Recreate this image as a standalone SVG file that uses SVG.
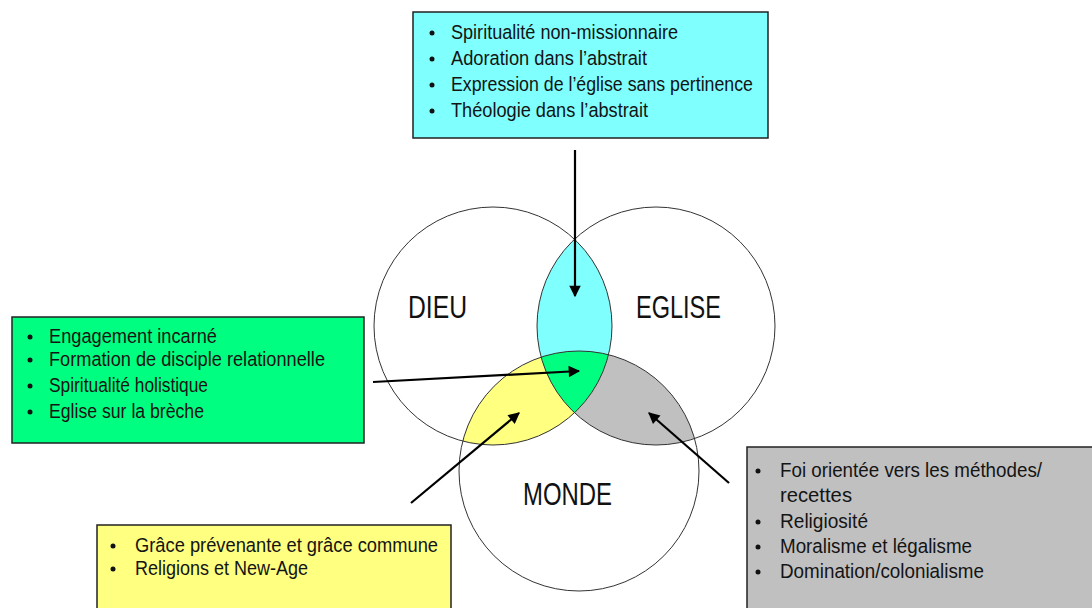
<svg xmlns="http://www.w3.org/2000/svg" width="1092" height="608" viewBox="0 0 1092 608">
<style>
.box{stroke:#222;stroke-width:1.5}
.t{font-family:"Liberation Sans",Arial,sans-serif;font-size:20.5px;fill:#141414}
.big{font-family:"Liberation Sans",Arial,sans-serif;font-size:31px;fill:#111}
.ring{fill:none;stroke:#333;stroke-width:1}
.conn{stroke:#000;stroke-width:2.2;fill:none}
.dot{fill:#111}
</style>
<defs>
<clipPath id="cE"><circle cx="656" cy="326" r="119"/></clipPath>
<clipPath id="cM"><circle cx="579" cy="471" r="120"/></clipPath>
<marker id="ah" viewBox="0 0 10 10" refX="9" refY="5" markerWidth="7" markerHeight="5.2" markerUnits="strokeWidth" orient="auto">
<path d="M0,0 L10,5 L0,10 z" fill="#000"/>
</marker>
</defs>
<rect width="1092" height="608" fill="#fff"/>

<g id="venn">
<circle cx="493" cy="326" r="119" fill="#80ffff" clip-path="url(#cE)"/>
<circle cx="493" cy="326" r="119" fill="#ffff80" clip-path="url(#cM)"/>
<circle cx="656" cy="326" r="119" fill="#c0c0c0" clip-path="url(#cM)"/>
<g clip-path="url(#cM)"><circle cx="493" cy="326" r="119" fill="#00ff80" clip-path="url(#cE)"/></g>
<g id="dieu"><circle class="ring" cx="493" cy="326" r="119"/><text class="big" x="408" y="318" textLength="59" lengthAdjust="spacingAndGlyphs">DIEU</text></g>
<g id="eglise"><circle class="ring" cx="656" cy="326" r="119"/><text class="big" x="636" y="318" textLength="85" lengthAdjust="spacingAndGlyphs">EGLISE</text></g>
<g id="monde"><circle class="ring" cx="579" cy="471" r="120"/><text class="big" x="523" y="505" textLength="89" lengthAdjust="spacingAndGlyphs">MONDE</text></g>
</g>

<g id="box-cyan">
<rect class="box" x="413" y="12" width="355" height="126" fill="#80ffff"/>
<circle class="dot" cx="432" cy="33" r="2.5"/><text class="t" x="451" y="39" textLength="227" lengthAdjust="spacingAndGlyphs">Spiritualité non-missionnaire</text>
<circle class="dot" cx="432" cy="59" r="2.5"/><text class="t" x="451" y="65" textLength="196" lengthAdjust="spacingAndGlyphs">Adoration dans l’abstrait</text>
<circle class="dot" cx="432" cy="85" r="2.5"/><text class="t" x="451" y="91" textLength="302" lengthAdjust="spacingAndGlyphs">Expression de l’église sans pertinence</text>
<circle class="dot" cx="432" cy="111" r="2.5"/><text class="t" x="451" y="117" textLength="197" lengthAdjust="spacingAndGlyphs">Théologie dans l’abstrait</text>
</g>

<g id="box-green">
<rect class="box" x="12" y="317" width="352" height="126" fill="#00ff80"/>
<circle class="dot" cx="30" cy="337" r="2.5"/><text class="t" x="49" y="343" textLength="168" lengthAdjust="spacingAndGlyphs">Engagement incarné</text>
<circle class="dot" cx="30" cy="360" r="2.5"/><text class="t" x="49" y="366" textLength="276" lengthAdjust="spacingAndGlyphs">Formation de disciple relationnelle</text>
<circle class="dot" cx="30" cy="386" r="2.5"/><text class="t" x="49" y="392" textLength="159" lengthAdjust="spacingAndGlyphs">Spiritualité holistique</text>
<circle class="dot" cx="30" cy="412" r="2.5"/><text class="t" x="49" y="418" textLength="155" lengthAdjust="spacingAndGlyphs">Eglise sur la brèche</text>
</g>

<g id="box-yellow">
<rect class="box" x="97" y="525" width="354" height="100" fill="#ffff80"/>
<circle class="dot" cx="113" cy="546" r="2.5"/><text class="t" x="135" y="552" textLength="303" lengthAdjust="spacingAndGlyphs">Grâce prévenante et grâce commune</text>
<circle class="dot" cx="113" cy="569" r="2.5"/><text class="t" x="135" y="575" textLength="173" lengthAdjust="spacingAndGlyphs">Religions et New-Age</text>
</g>

<g id="box-gray">
<rect class="box" x="747" y="447" width="360" height="180" fill="#c0c0c0"/>
<circle class="dot" cx="758" cy="471" r="2.5"/><text class="t" x="780" y="477" textLength="262" lengthAdjust="spacingAndGlyphs">Foi orientée vers les méthodes/</text>
<text class="t" x="780" y="502" textLength="72" lengthAdjust="spacingAndGlyphs">recettes</text>
<circle class="dot" cx="758" cy="522" r="2.5"/><text class="t" x="780" y="528" textLength="88" lengthAdjust="spacingAndGlyphs">Religiosité</text>
<circle class="dot" cx="758" cy="547" r="2.5"/><text class="t" x="780" y="553" textLength="192" lengthAdjust="spacingAndGlyphs">Moralisme et légalisme</text>
<circle class="dot" cx="758" cy="572" r="2.5"/><text class="t" x="780" y="578" textLength="204" lengthAdjust="spacingAndGlyphs">Domination/colonialisme</text>
</g>

<g id="connectors">
<line class="conn" x1="575" y1="150" x2="575" y2="296" marker-end="url(#ah)"/>
<line class="conn" x1="373" y1="382" x2="579" y2="371" marker-end="url(#ah)"/>
<line class="conn" x1="411" y1="503" x2="519" y2="413" marker-end="url(#ah)"/>
<line class="conn" x1="729" y1="483" x2="649" y2="413" marker-end="url(#ah)"/>
</g>
</svg>
